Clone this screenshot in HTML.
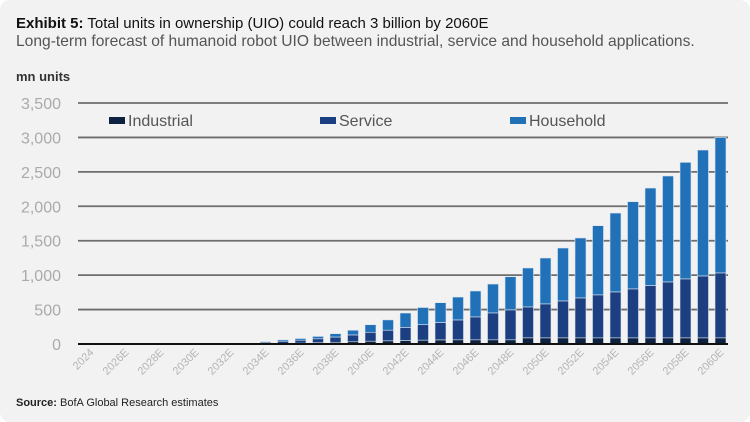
<!DOCTYPE html>
<html><head><meta charset="utf-8"><style>
html,body{margin:0;padding:0;background:#fff;}
body{width:750px;height:422px;overflow:hidden;font-family:"Liberation Sans",Arial,sans-serif;}
#card{position:absolute;left:0;top:0;width:750px;height:422px;background:#f2f2f2;border-radius:10px;}
.t{position:absolute;left:16px;white-space:nowrap;}
</style></head><body>
<div id="card">
<div class="t" style="top:15px;font-size:15px;color:#111;"><b>Exhibit 5:</b> Total units in ownership (UIO) could reach 3 billion by 2060E</div>
<div class="t" style="top:33px;font-size:15.6px;color:#555;">Long-term forecast of humanoid robot UIO between industrial, service and household applications.</div>
<div class="t" style="top:69px;font-size:13px;font-weight:bold;color:#333;">mn units</div>
<div class="t" style="top:397px;font-size:11px;color:#222;"><b>Source:</b> BofA Global Research estimates</div>
<svg id="s" width="750" height="422" style="position:absolute;left:0;top:0" xmlns="http://www.w3.org/2000/svg"></svg>
</div>
<script>
var s=document.getElementById('s'),h='';
var y0=344,k=241/3500;
for(var i=0;i<=7;i++){var y=y0-i*500*k;
 h+='<line x1="78" x2="728" y1="'+y+'" y2="'+y+'" stroke="#6e6e6e" stroke-width="1.8"/>';
 h+='<text x="61" y="'+(y+6)+'" text-anchor="end" font-size="16" fill="#aaa" font-family="Liberation Sans,Arial,sans-serif">'+(i*500).toLocaleString('en-US')+'</text>';}
var tot={2034:35,2035:60,2036:80,2037:110,2038:150,2039:200,2040:280,2041:350,2042:450,2043:530,2044:600,2045:682,2046:770,2047:871,2048:977,2049:1104,2050:1249,2051:1394,2052:1540,2053:1718,2054:1902,2055:2067,2056:2265,2057:2440,2058:2638,2059:2817,2060:3000};
var svc={2034:25,2035:40,2036:55,2037:75,2038:100,2039:130,2040:170,2041:200,2042:240,2043:280,2044:310,2045:348,2046:392,2047:450,2048:494,2049:537,2050:581,2051:624,2052:668,2053:712,2054:755,2055:799,2056:847,2057:900,2058:944,2059:987,2060:1031};
var ind={2034:4,2035:8,2036:12,2037:18,2038:25,2039:32,2040:40,2041:45,2042:50,2043:55,2044:58,2045:60,2046:60,2047:60,2048:60};
for(var j=0;j<37;j++){var yr=2024+j,cx=90.5+j*17.5,x=cx-5.5;
 if(tot[yr]){var it=ind[yr]||88,st=svc[yr],tt=tot[yr];
  function r(a,b,c){var ya=y0-b*k,yb=y0-a*k;return '<rect x="'+x+'" y="'+ya+'" width="11" height="'+Math.max(0.5,yb-ya)+'" fill="'+c+'" stroke="#dde6f0" stroke-width="0.6"/>';}
  h+=r(st,tt,'#2171b9')+r(it,st,'#1b3f80')+r(0,it,'#0d2240');}
 if(j%2==0){var lab=yr==2024?'2024':yr+'E';
  h+='<text transform="translate('+(cx+4)+',353) rotate(-45)" text-anchor="end" font-size="11" fill="#b5b5b5" font-family="Liberation Sans,Arial,sans-serif">'+lab+'</text>';}}
h+='<line x1="78" x2="728" y1="344" y2="344" stroke="#111" stroke-width="2"/>';
var L=[[109,'Industrial','#0d2240'],[320,'Service','#1b3f80'],[510,'Household','#2171b9']];
L.forEach(function(l){h+='<rect x="'+l[0]+'" y="117" width="16" height="7" fill="'+l[2]+'"/><text x="'+(l[0]+19)+'" y="126" font-size="16" fill="#555" font-family="Liberation Sans,Arial,sans-serif">'+l[1]+'</text>';});
s.innerHTML=h;
</script>
</body></html>
